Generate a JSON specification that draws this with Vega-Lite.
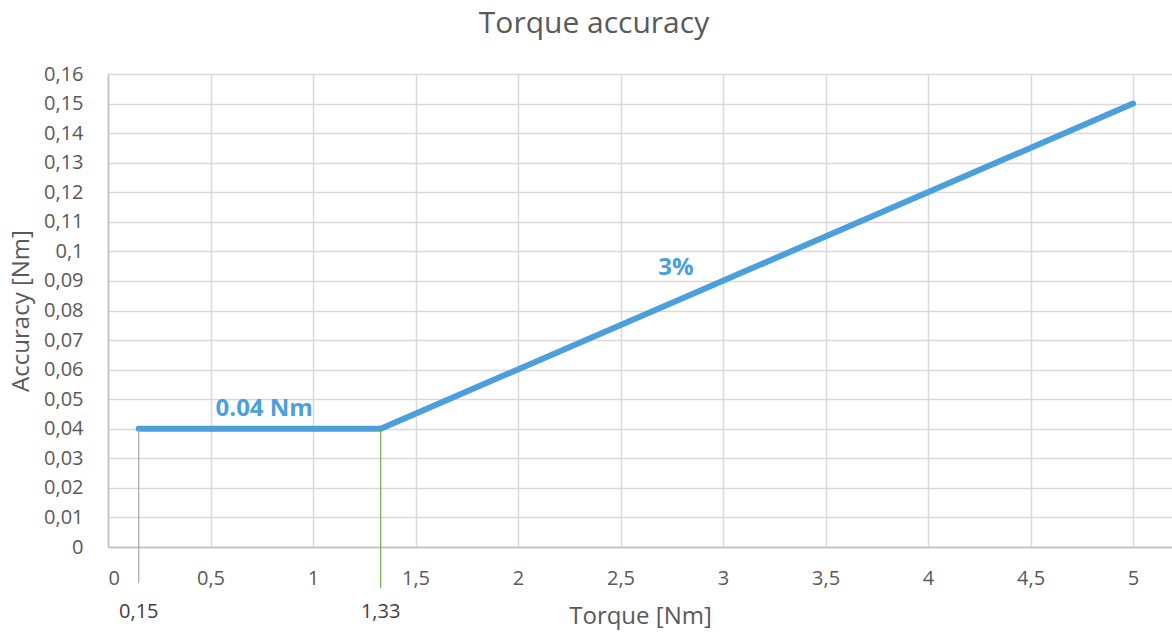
{
  "$schema": "https://vega.github.io/schema/vega-lite/v6.json",
  "autosize": {"type": "none"},
  "width": 1064,
  "height": 473,
  "padding": {"left": 108, "top": 74, "right": 0, "bottom": 87},
  "background": "white",
  "config": {
    "view": {"stroke": null},
    "font": "Open Sans",
    "axis": {
      "labelFont": "Open Sans",
      "titleFont": "Open Sans",
      "labelColor": "#595959",
      "titleColor": "#595959",
      "labelFontSize": 20,
      "titleFontSize": 24,
      "titleFontWeight": "normal",
      "gridColor": "#d9d9d9",
      "gridWidth": 1.5,
      "ticks": false,
      "labelOverlap": false,
      "domainColor": "#bfbfbf",
      "domainWidth": 1.5
    }
  },
  "title": {
    "text": "Torque accuracy",
    "font": "Open Sans",
    "fontSize": 30,
    "fontWeight": "normal",
    "color": "#595959",
    "anchor": "middle",
    "dx": -46,
    "offset": 25
  },
  "datasets": {
    "curve": [
      {"torque": 0.15, "accuracy": 0.04},
      {"torque": 1.33, "accuracy": 0.04},
      {"torque": 5, "accuracy": 0.15}
    ],
    "markers": [
      {"torque": 0.15, "accuracy": 0.04, "bottom": -0.0122, "label": "0,15", "labelY": -0.022, "kind": "start"},
      {"torque": 1.33, "accuracy": 0.04, "bottom": -0.0139, "label": "1,33", "labelY": -0.022, "kind": "knee"}
    ],
    "notes": [
      {"torque": 0.762, "accuracy": 0.0468, "text": "0.04 Nm"},
      {"torque": 2.77, "accuracy": 0.0943, "text": "3%"}
    ]
  },
  "layer": [
    {
      "data": {"name": "curve"},
      "mark": {"type": "line", "color": "#4a9fdc", "strokeWidth": 6, "strokeCap": "round"},
      "encoding": {
        "x": {
          "field": "torque", "type": "quantitative",
          "scale": {"domain": [0, 5.19], "nice": false, "zero": false},
          "axis": {
            "values": [0, 0.5, 1, 1.5, 2, 2.5, 3, 3.5, 4, 4.5, 5],
            "tickCount": 30,
            "labelExpr": "replace(format(datum.value, '.1~f'), '.', ',')",
            "labelPadding": 21,
            "title": "Torque [Nm]",
            "titlePadding": 16
          }
        },
        "y": {
          "field": "accuracy", "type": "quantitative",
          "scale": {"domain": [0, 0.16], "nice": false},
          "axis": {
            "values": [0, 0.01, 0.02, 0.03, 0.04, 0.05, 0.06, 0.07, 0.08, 0.09, 0.1, 0.11, 0.12, 0.13, 0.14, 0.15, 0.16],
            "tickCount": 30,
            "labelOverlap": false,
            "labelExpr": "replace(format(datum.value, '.2~f'), '.', ',')",
            "labelPadding": 25,
            "title": "Accuracy [Nm]",
            "titlePadding": 10
          }
        }
      }
    },
    {
      "data": {"name": "markers"},
      "mark": {"type": "rule", "strokeWidth": 1.2},
      "encoding": {
        "x": {"field": "torque", "type": "quantitative"},
        "y": {"field": "accuracy", "type": "quantitative"},
        "y2": {"field": "bottom"},
        "color": {
          "field": "kind", "type": "nominal",
          "scale": {"domain": ["start", "knee"], "range": ["#a6a6a6", "#70ad47"]},
          "legend": null
        }
      }
    },
    {
      "data": {"name": "markers"},
      "mark": {"type": "text", "fontSize": 20, "color": "#404040", "font": "Open Sans", "baseline": "middle", "align": "center"},
      "encoding": {
        "x": {"field": "torque", "type": "quantitative"},
        "y": {"field": "labelY", "type": "quantitative"},
        "text": {"field": "label"}
      }
    },
    {
      "data": {"name": "notes"},
      "mark": {"type": "text", "fontSize": 24, "fontWeight": "bold", "color": "#4a9fdc", "font": "Open Sans", "baseline": "middle", "align": "center"},
      "encoding": {
        "x": {"field": "torque", "type": "quantitative"},
        "y": {"field": "accuracy", "type": "quantitative"},
        "text": {"field": "text"}
      }
    }
  ]
}
